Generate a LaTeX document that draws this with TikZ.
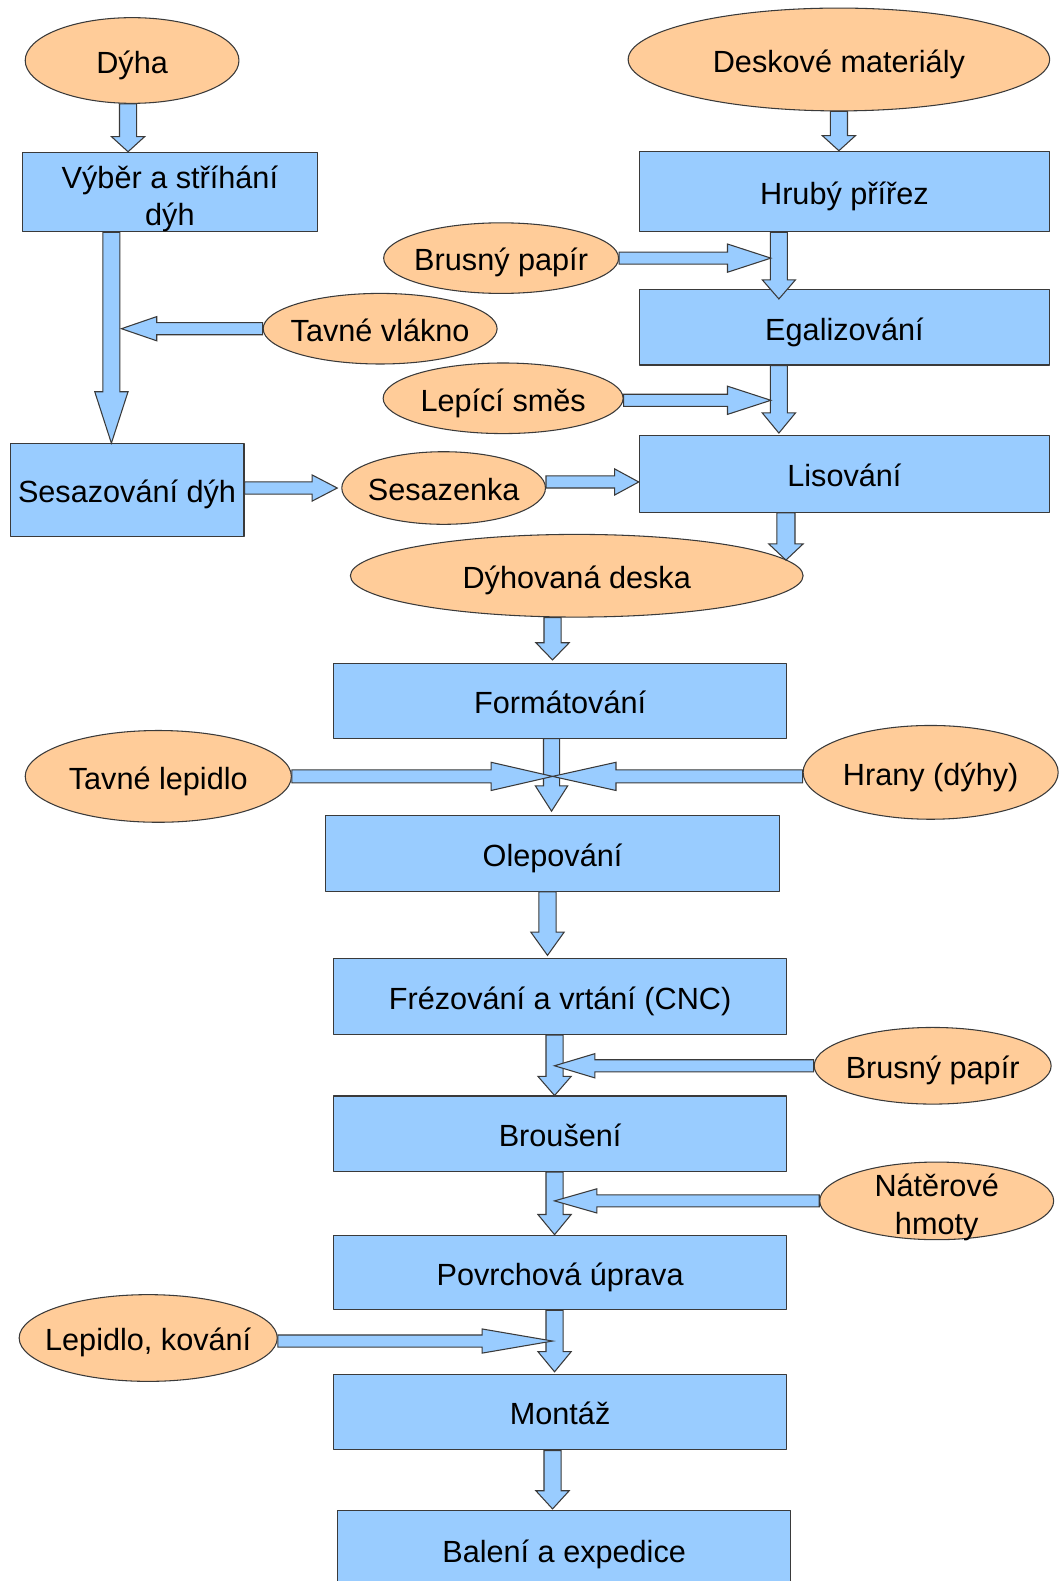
\documentclass[tikz,border=0pt]{standalone}
\usepackage{fontspec}
\setmainfont{Liberation Sans}
\usetikzlibrary{calc,shapes.geometric}
\definecolor{boxblue}{HTML}{99CCFF}
\definecolor{ovalorange}{HTML}{FFCC99}
\definecolor{linec}{HTML}{3A3A3A}
\newcommand\pxu{0.02cm}
\tikzset{
  process/.style={draw=linec, fill=boxblue, line width=0.6pt, rectangle, align=center,
    inner sep=0pt, minimum width=449*\pxu, minimum height=75*\pxu,
    text height=15pt, text depth=0.5pt},
  material/.style={draw=linec, fill=ovalorange, line width=0.6pt, ellipse, align=center,
    inner sep=-15pt, text height=15pt, text depth=0.5pt},
  twolines/.style={text height=38pt, text depth=0.5pt},
  blockarrow/.style={draw=linec, fill=boxblue, line width=0.6pt, line join=miter},
}
% block arrow: from, to, shaft width, head width, head length
\newcommand\barrow[5]{%
  \path #1 coordinate (arS) #2 coordinate (arE);
  \path let \p1=($(arE)-(arS)$) in \pgfextra{%
    \pgfmathsetmacro\arlen{veclen(\x1,\y1)/0.56905}%
    \pgfmathsetmacro\arang{atan2(\y1,\x1)}%
    \global\let\arlen\arlen \global\let\arang\arang};
  \draw[blockarrow, shift={(arS)}, rotate=\arang, x=\pxu, y=\pxu]
    (0,-#3/2) -- ({\arlen-#5},-#3/2) -- ({\arlen-#5},-#4/2) -- (\arlen,0)
    -- ({\arlen-#5},#4/2) -- ({\arlen-#5},#3/2) -- (0,#3/2) -- cycle;
}

\begin{document}
\begin{tikzpicture}[x=\pxu, y=-\pxu, font=\fontsize{17.3}{21}\selectfont, line join=round]
	\useasboundingbox (0,0) rectangle (1050,1568);
	\node[process, twolines, minimum width=293*\pxu, minimum height=79*\pxu] (vyb) at (168.5,190.5) {Výběr a stříhání\\dýh};
	\node[process, minimum width=407*\pxu, minimum height=80*\pxu] (hruby) at (837.5,190) {Hrubý přířez};
	\node[process, minimum width=407*\pxu] (egal) at (837.5,324.5) {Egalizování};
	\node[process, minimum width=407*\pxu, minimum height=76*\pxu] (lis) at (837.5,470) {Lisování};
	\node[process, minimum width=232*\pxu, minimum height=92*\pxu] (sesaz) at (126,486) {Sesazování dýh};
	\node[process, minimum height=74*\pxu] (format) at (555.5,695) {Formátování};
	\node[process, minimum width=450*\pxu] (olep) at (548,846.5) {Olepování};
	\node[process] (frez) at (555.5,988.5) {Frézování a vrtání (CNC)};
	\node[process] (brous) at (555.5,1124.5) {Broušení};
	\node[process, minimum height=74*\pxu] (povrch) at (555.5,1262) {Povrchová úprava};
	\node[process] (montaz) at (555.5,1400.5) {Montáž};
	\node[process, minimum height=77*\pxu] (baleni) at (559.5,1536.5) {Balení a expedice};

	\node[material, minimum width=212*\pxu, minimum height=85*\pxu] (dyha) at (131,60) {Dýha};
	\node[material, minimum width=418*\pxu, minimum height=102*\pxu] (desk) at (832,59) {Deskové materiály};
	\node[material, minimum width=233*\pxu, minimum height=70*\pxu] (brusny1) at (497,256) {Brusný papír};
	\node[material, minimum width=232*\pxu, minimum height=70*\pxu] (vlakno) at (377,326) {Tavné vlákno};
	\node[material, minimum width=238*\pxu, minimum height=70*\pxu] (smes) at (499,395) {Lepící směs};
	\node[material, minimum width=202*\pxu, minimum height=72*\pxu] (sesazenka) at (440,484) {Sesazenka};
	\node[material, minimum width=449*\pxu, minimum height=82*\pxu] (deska) at (572,571) {Dýhovaná deska};
	\node[material, minimum width=264*\pxu, minimum height=91*\pxu] (lepidlo) at (157,770) {Tavné lepidlo};
	\node[material, minimum width=253*\pxu, minimum height=93*\pxu] (hrany) at (923,766) {Hrany (dýhy)};
	\node[material, minimum width=235*\pxu, minimum height=76*\pxu] (brusny2) at (925,1057) {Brusný papír};
	\node[material, twolines, minimum width=232*\pxu, minimum height=77*\pxu] (hmoty) at (929,1191) {Nátěrové\\hmoty};
	\node[material, minimum width=256*\pxu, minimum height=86*\pxu] (kovani) at (147,1327) {Lepidlo, kování};

	\barrow{($(dyha.south)+(-4,0)$)}{($(dyha.south |- vyb.north)+(-4,0)$)}{17}{33}{15}
	\barrow{(desk.south)}{(desk.south |- hruby.north)}{17}{33}{15}
	\barrow{($(vyb.south west)+(89,0)$)}{($(vyb.south west |- sesaz.north)+(89,0)$)}{17}{33}{51}
	\barrow{($(hruby.south west)+(139,0)$)}{($(hruby.south west |- egal.north)+(139,10)$)}{17}{33}{19}
	\barrow{($(egal.south west)+(139,0)$)}{($(egal.south west |- lis.north)+(139,-2)$)}{17}{33}{20}
	\barrow{($(lis.south west)+(146,0)$)}{($(lis.south west |- deska.north)+(146,26)$)}{18}{34}{16}
	\barrow{($(deska.south)+(-24,0)$)}{($(deska.south |- format.north)+(-24,-3)$)}{17}{33}{17}
	\barrow{($(format.south)+(-8.5,0)$)}{($(format.south |- olep.north)+(-8.5,-4)$)}{16}{32}{25}
	\barrow{($(olep.south)+(-5,0)$)}{($(olep.south |- frez.north)+(-5,-3)$)}{17}{33}{23}
	\barrow{($(frez.south)+(-5.5,0)$)}{($(frez.south |- brous.north)+(-5.5,0)$)}{17}{33}{19}
	\barrow{($(brous.south)+(-5.5,0)$)}{($(brous.south |- povrch.north)+(-5.5,0)$)}{17}{33}{20}
	\barrow{($(povrch.south)+(-5.5,0)$)}{($(povrch.south |- montaz.north)+(-5.5,-2)$)}{17}{33}{20}
	\barrow{($(montaz.south)+(-7.5,0)$)}{($(montaz.south |- baleni.north)+(-7.5,-1)$)}{17}{33}{18}

	\barrow{(vlakno.west)}{($(vyb.south west |- vlakno.west)+(99,0)$)}{12}{24}{35}
	\barrow{(brusny1.east)}{($(hruby.south west |- brusny1.east)+(131,0)$)}{12}{28}{43}
	\barrow{($(smes.east)+(0,2)$)}{($(hruby.south west |- smes.east)+(131,2)$)}{12}{28}{43}
	\barrow{($(sesaz.east)+(0,-2)$)}{($(sesazenka.west)+(-4,0)$)}{12}{26}{25}
	\barrow{($(sesazenka.east)+(0,-6)$)}{($(lis.west)+(0,8)$)}{12}{26}{24}
	\barrow{(lepidlo.east)}{($(format.south |- lepidlo.east)+(-7.5,0)$)}{13}{28}{61}
	\barrow{($(hrany.west)+(0,4)$)}{($(format.south |- hrany.west)+(-7.5,4)$)}{13}{28}{63}
	\barrow{(brusny2.west)}{($(frez.south |- brusny2.west)+(-5.5,0)$)}{12}{24}{40}
	\barrow{(hmoty.west)}{($(brous.south |- hmoty.west)+(-5.5,0)$)}{12}{24}{42}
	\barrow{($(kovani.east)+(0,3)$)}{($(povrch.south |- kovani.east)+(-7.5,3)$)}{12}{24}{70}
\end{tikzpicture}
\end{document}
